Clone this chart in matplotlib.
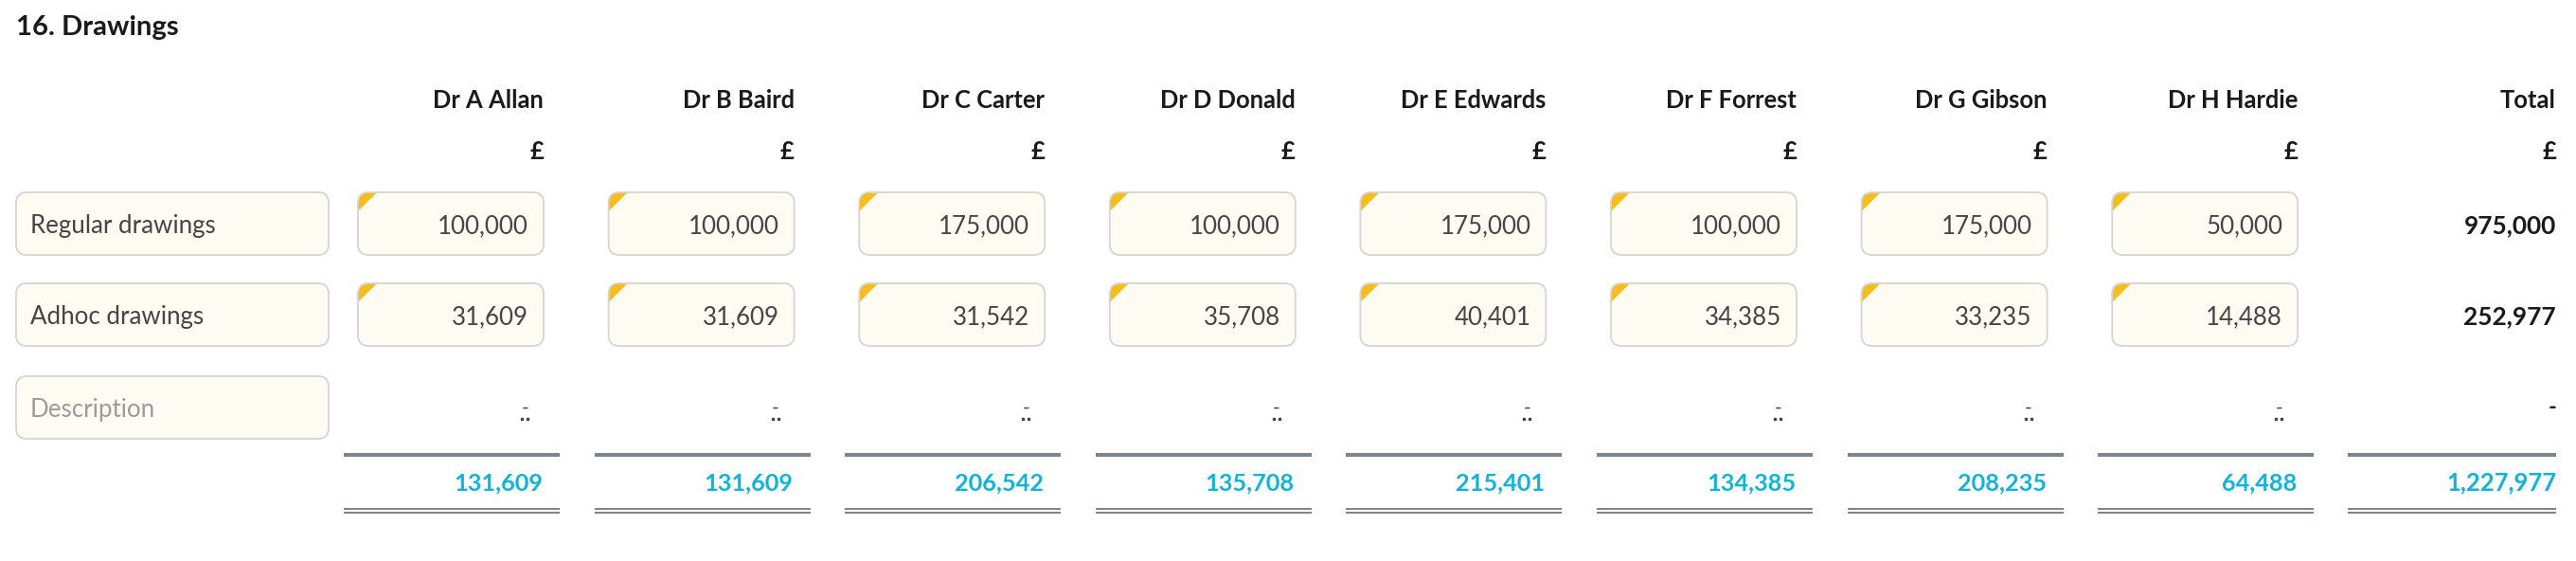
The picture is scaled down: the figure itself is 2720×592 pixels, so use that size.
import matplotlib
matplotlib.use("Agg")
import matplotlib.pyplot as plt
from matplotlib.patches import FancyBboxPatch, Polygon

# ---------------- data ----------------
title = "16. Drawings"
partners = ["Dr A Allan", "Dr B Baird", "Dr C Carter", "Dr D Donald",
            "Dr E Edwards", "Dr F Forrest", "Dr G Gibson", "Dr H Hardie"]
row_labels = ["Regular drawings", "Adhoc drawings"]
placeholder = "Description"
regular = [100000, 100000, 175000, 100000, 175000, 100000, 175000, 50000]
adhoc = [31609, 31609, 31542, 35708, 40401, 34385, 33235, 14488]
column_totals = [131609, 131609, 206542, 135708, 215401, 134385, 208235, 64488]
row_totals = [975000, 252977]
grand_total = 1227977
currency = "£"
total_header = "Total"

# ---------------- style ----------------
FONT = "Lato"
C_DARK = "#1a1a1a"
C_VAL = "#454545"
C_PH = "#9b9b9b"
C_BLUE = "#12b3d7"
C_RULE = "#7b8690"
C_BOX_FILL = "#fefbf3"
C_BOX_EDGE = "#d5d5d5"
C_FLAG = "#f7bd1c"

W, H = 2720, 592
fig = plt.figure(figsize=(W / 100, H / 100), dpi=100)
ax = fig.add_axes([0, 0, 1, 1])
ax.set_xlim(0, W)
ax.set_ylim(H, 0)
ax.axis("off")
renderer = fig.canvas.get_renderer()


def fit_size(sample, weight, target_px):
    """Font size (pt) giving the sample string the wanted pixel width."""
    t = fig.text(0, 0, sample, fontfamily=FONT, fontweight=weight, fontsize=20)
    w = t.get_window_extent(renderer).width
    t.remove()
    return 20 * target_px / w


FS_TITLE = fit_size("16. Drawings", "bold", 172)
FS_HEAD = (fit_size("Dr A Allan", "bold", 118) + fit_size("Dr G Gibson", "bold", 138)) / 2
FS_VAL = fit_size("100,000", "normal", 96)
FS_LAB = fit_size("Adhoc drawings", "normal", 183)
FS_COLTOT = fit_size("131,609", "bold", 94)
FS_ROWTOT = fit_size("975,000", "bold", 98)
FS_GRAND = fit_size("1,227,977", "bold", 116)

# layout (pixels)
col_right0 = 574
col_step = 264.6
box_w = 196
box_h = 66
row_tops = [203, 299, 397]
label_x0, label_w = 17, 330
total_right = 2699


def fmt(v):
    return f"{v:,}"


def rounded_box(x0, y0, w, h, flag=False):
    fill = FancyBboxPatch((x0, y0), w, h, boxstyle="round,pad=0,rounding_size=11",
                          facecolor=C_BOX_FILL, edgecolor="none", zorder=1)
    ax.add_patch(fill)
    if flag:
        tri = Polygon([(x0, y0), (x0 + 20, y0), (x0, y0 + 20)], closed=True,
                      facecolor=C_FLAG, edgecolor="none", zorder=2)
        ax.add_patch(tri)
        tri.set_clip_path(fill)
    edge = FancyBboxPatch((x0, y0), w, h, boxstyle="round,pad=0,rounding_size=11",
                          facecolor="none", edgecolor=C_BOX_EDGE, linewidth=1.3, zorder=3)
    ax.add_patch(edge)


# title
ax.text(17, 37, title, fontfamily=FONT, fontweight="bold", fontsize=FS_TITLE,
        color=C_DARK, ha="left", va="baseline")

# row label boxes
for i, lab in enumerate(row_labels + [placeholder]):
    top = row_tops[i]
    rounded_box(label_x0, top, label_w, box_h)
    ax.text(label_x0 + 15, top + box_h / 2 + 10, lab, fontfamily=FONT, fontsize=FS_LAB,
            color=C_PH if i == 2 else C_VAL, ha="left", va="baseline")

# partner columns
for j, name in enumerate(partners):
    R = col_right0 + col_step * j
    ax.text(R, 114, name, fontfamily=FONT, fontweight="bold", fontsize=FS_HEAD,
            color=C_DARK, ha="right", va="baseline")
    ax.text(R, 168, currency, fontfamily=FONT, fontweight="bold", fontsize=FS_HEAD,
            color=C_DARK, ha="right", va="baseline")
    for i, series in enumerate([regular, adhoc]):
        top = row_tops[i]
        rounded_box(R - box_w, top, box_w, box_h, flag=True)
        ax.text(R - 16, top + box_h / 2 + 10, fmt(series[j]), fontfamily=FONT,
                fontsize=FS_VAL, color=C_VAL, ha="right", va="baseline", zorder=4)
    # empty description row marker
    ax.text(R - 16, 437, "-", fontfamily=FONT, fontsize=15, color=C_VAL,
            ha="right", va="baseline")
    ax.plot([R - 23, R - 17], [442, 442], linestyle="none", marker="s",
            markersize=1.6, color=C_VAL)
    # rules + column total
    ax.hlines(480, R - 211, R + 17, colors=C_RULE, linewidth=2.9, capstyle="butt")
    ax.text(R - 1, 517, fmt(column_totals[j]), fontfamily=FONT, fontweight="bold",
            fontsize=FS_COLTOT, color=C_BLUE, ha="right", va="baseline")
    ax.hlines([537, 541], R - 211, R + 17, colors=C_RULE, linewidth=1.45,
              capstyle="butt")

# total column
ax.text(total_right, 114, total_header, fontfamily=FONT, fontweight="bold",
        fontsize=FS_HEAD, color=C_DARK, ha="right", va="baseline")
ax.text(total_right, 168, currency, fontfamily=FONT, fontweight="bold",
        fontsize=FS_HEAD, color=C_DARK, ha="right", va="baseline")
for i, v in enumerate(row_totals):
    ax.text(total_right, row_tops[i] + box_h / 2 + 10, fmt(v), fontfamily=FONT,
            fontweight="bold", fontsize=FS_ROWTOT, color=C_DARK, ha="right",
            va="baseline")
ax.text(total_right, 437, "-", fontfamily=FONT, fontweight="bold", fontsize=17,
        color=C_DARK, ha="right", va="baseline")
ax.hlines(480, total_right - 220, total_right, colors=C_RULE, linewidth=2.9,
          capstyle="butt")
ax.text(total_right, 517, fmt(grand_total), fontfamily=FONT, fontweight="bold",
        fontsize=FS_GRAND, color=C_BLUE, ha="right", va="baseline")
ax.hlines([537, 541], total_right - 220, total_right, colors=C_RULE, linewidth=1.45,
          capstyle="butt")

fig.savefig("out.png", dpi=100, facecolor="white")
